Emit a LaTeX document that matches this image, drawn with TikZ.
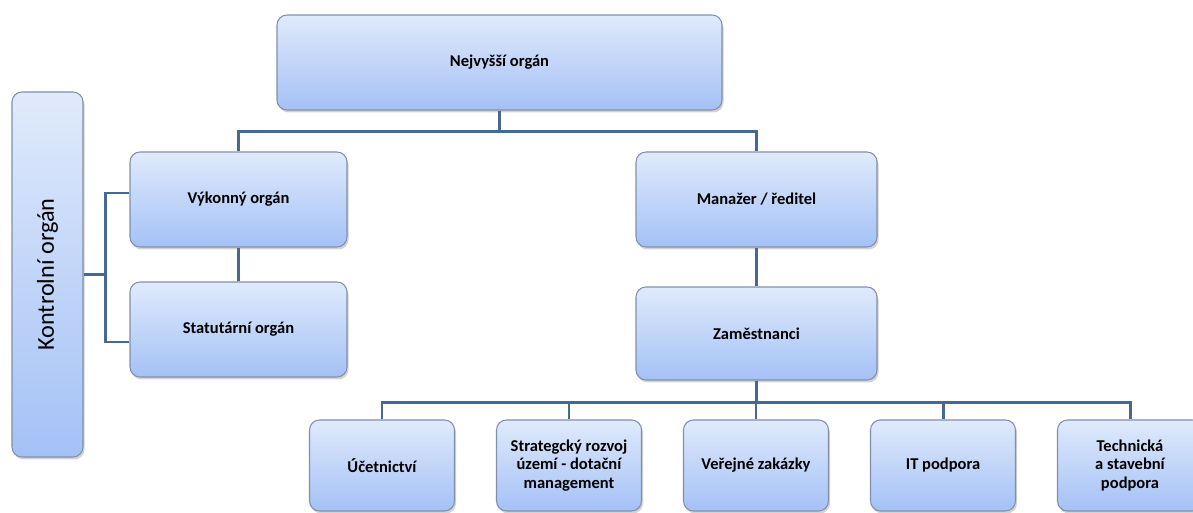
\documentclass[tikz,border=0pt]{standalone}
\usepackage{fontspec}
\setmainfont{Carlito}
\usetikzlibrary{shadows}

\definecolor{boxtop}{RGB}{224,234,251}
\definecolor{boxbot}{RGB}{164,193,246}
\definecolor{boxline}{RGB}{128,144,172}
\definecolor{conncol}{RGB}{70,104,145}

\tikzset{
  orgbox/.style={draw=boxline, line width=0.6pt, rounded corners=0.2cm,
    top color=boxtop, bottom color=boxbot, align=center,
    font=\bfseries\fontsize{9.4}{10.5}\selectfont,
    drop shadow={opacity=0.35, shadow xshift=0.03cm, shadow yshift=-0.05cm}},
  conn/.style={draw=conncol, line width=1.7pt}
}

\begin{document}
\begin{tikzpicture}
    \useasboundingbox (0,0) rectangle (23.86,-10.26);
    \clip (0,0) rectangle (23.86,-10.26);

    % Vrchol
    \node[orgbox, minimum width=8.9cm, minimum height=1.9cm] (top) at (9.99,-1.25) {Nejvyšší orgán};

    % Kontrolni organ
    \node[orgbox, minimum width=1.42cm, minimum height=7.3cm, font=\fontsize{13.8}{15}\selectfont] (kontrol) at (0.95,-5.49) {\rotatebox{90}{Kontrolní orgán}};

    % Levy sloupec
    \node[orgbox, minimum width=4.34cm, minimum height=1.9cm] (vykon) at (4.77,-3.99) {Výkonný orgán};
    \node[orgbox, minimum width=4.34cm, minimum height=1.9cm] (statut) at (4.77,-6.59) {Statutární orgán};

    % Pravy sloupec
    \node[orgbox, minimum width=4.82cm, minimum height=1.9cm] (manazer) at (15.13,-3.99) {Manažer / ředitel};
    \node[orgbox, minimum width=4.82cm, minimum height=1.86cm] (zames) at (15.13,-6.67) {Zaměstnanci};

    % Oddeleni
    \tikzset{dept/.style={orgbox, minimum width=2.9cm, minimum height=1.82cm}}
    \node[dept] (ucet) at (7.64,-9.31) {Účetnictví};
    \node[dept] (strat) at (11.38,-9.31) {Strategcký rozvoj\\území - dotační\\management};
    \node[dept] (verej) at (15.12,-9.31) {Veřejné zakázky};
    \node[dept] (it) at (18.86,-9.31) {IT podpora};
    \node[dept] (tech) at (22.6,-9.31) {Technická\\a stavební\\podpora};

    % Spojnice
    \draw[conn] (top.south) -- ++(0,-0.42) coordinate (tb);
    \draw[conn] (vykon.north) |- (tb) -| (manazer.north);
    \draw[conn] (vykon.south) -- (statut.north);
    \draw[conn] (manazer.south) -- (zames.north);
    \draw[conn] (kontrol.east) -- ++(0.44,0) coordinate (kb);
    \draw[conn] ([yshift=0.13cm]vykon.west) -| (kb) |- ([yshift=-0.25cm]statut.west);
    \draw[conn] (zames.south) -- ++(0,-0.44) coordinate (zb);
    \foreach \n in {ucet,strat,verej,it,tech}
        \draw[conn] (zb) -| (\n.north);

\end{tikzpicture}
\end{document}
